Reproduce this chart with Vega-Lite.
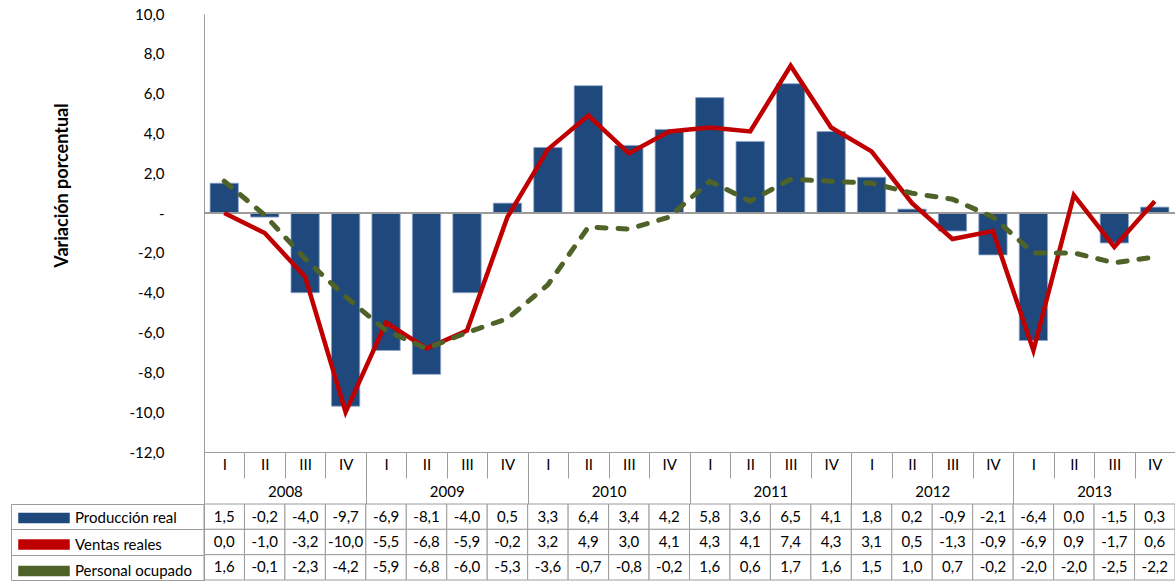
{
  "$schema": "https://vega.github.io/schema/vega-lite/v6.json",
  "autosize": {"type": "pad"},
  "padding": {"left": 10, "top": 7, "right": 0, "bottom": 0},
  "background": "white",
  "config": {
    "locale": {"number": {"decimal": ",", "thousands": ".", "grouping": [3], "currency": ["", ""], "minus": "-"}},
    "font": "Lato",
    "view": {"stroke": null},
    "axis": {"labelFont": "Lato", "titleFont": "Lato", "domainColor": "#9C9C9C", "tickColor": "#9C9C9C", "labelColor": "#000000", "titleColor": "#000000", "grid": false},
    "axisY": {"labelOverlap": false}
  },
  "datasets": {
    "d": [
      {"trimestre": "2008-I", "Producción real": 1.5, "Ventas reales": 0.0, "Personal ocupado": 1.6},
      {"trimestre": "2008-II", "Producción real": -0.2, "Ventas reales": -1.0, "Personal ocupado": -0.1},
      {"trimestre": "2008-III", "Producción real": -4.0, "Ventas reales": -3.2, "Personal ocupado": -2.3},
      {"trimestre": "2008-IV", "Producción real": -9.7, "Ventas reales": -10.0, "Personal ocupado": -4.2},
      {"trimestre": "2009-I", "Producción real": -6.9, "Ventas reales": -5.5, "Personal ocupado": -5.9},
      {"trimestre": "2009-II", "Producción real": -8.1, "Ventas reales": -6.8, "Personal ocupado": -6.8},
      {"trimestre": "2009-III", "Producción real": -4.0, "Ventas reales": -5.9, "Personal ocupado": -6.0},
      {"trimestre": "2009-IV", "Producción real": 0.5, "Ventas reales": -0.2, "Personal ocupado": -5.3},
      {"trimestre": "2010-I", "Producción real": 3.3, "Ventas reales": 3.2, "Personal ocupado": -3.6},
      {"trimestre": "2010-II", "Producción real": 6.4, "Ventas reales": 4.9, "Personal ocupado": -0.7},
      {"trimestre": "2010-III", "Producción real": 3.4, "Ventas reales": 3.0, "Personal ocupado": -0.8},
      {"trimestre": "2010-IV", "Producción real": 4.2, "Ventas reales": 4.1, "Personal ocupado": -0.2},
      {"trimestre": "2011-I", "Producción real": 5.8, "Ventas reales": 4.3, "Personal ocupado": 1.6},
      {"trimestre": "2011-II", "Producción real": 3.6, "Ventas reales": 4.1, "Personal ocupado": 0.6},
      {"trimestre": "2011-III", "Producción real": 6.5, "Ventas reales": 7.4, "Personal ocupado": 1.7},
      {"trimestre": "2011-IV", "Producción real": 4.1, "Ventas reales": 4.3, "Personal ocupado": 1.6},
      {"trimestre": "2012-I", "Producción real": 1.8, "Ventas reales": 3.1, "Personal ocupado": 1.5},
      {"trimestre": "2012-II", "Producción real": 0.2, "Ventas reales": 0.5, "Personal ocupado": 1.0},
      {"trimestre": "2012-III", "Producción real": -0.9, "Ventas reales": -1.3, "Personal ocupado": 0.7},
      {"trimestre": "2012-IV", "Producción real": -2.1, "Ventas reales": -0.9, "Personal ocupado": -0.2},
      {"trimestre": "2013-I", "Producción real": -6.4, "Ventas reales": -6.9, "Personal ocupado": -2.0},
      {"trimestre": "2013-II", "Producción real": 0.0, "Ventas reales": 0.9, "Personal ocupado": -2.0},
      {"trimestre": "2013-III", "Producción real": -1.5, "Ventas reales": -1.7, "Personal ocupado": -2.5},
      {"trimestre": "2013-IV", "Producción real": 0.3, "Ventas reales": 0.6, "Personal ocupado": -2.2}
    ]
  },
  "data": {"name": "d"},
  "transform": [{"fold": ["Producción real", "Ventas reales", "Personal ocupado"], "as": ["serie", "valor"]}],
  "spacing": 52,
  "bounds": "flush",
  "vconcat": [
    {
      "width": 971,
      "height": 438,
      "resolve": {"axis": {"x": "independent"}},
      "layer": [
        {
          "transform": [{"filter": "datum.serie === 'Producción real'"}],
          "mark": {"type": "bar", "width": {"band": 0.7}, "stroke": "#8FA6CC", "strokeWidth": 0.8},
          "encoding": {
            "x": {
              "field": "trimestre", "type": "ordinal",
              "scale": {"paddingInner": 0, "paddingOuter": 0},
              "axis": {
                "orient": "bottom", "title": null, "domain": true, "ticks": true,
                "tickBand": "extent", "tickSize": 26, "labelAngle": 0,
                "labelExpr": "split(datum.value, '-')[1]",
                "labelPadding": -21, "labelFontSize": 15, "labelOverlap": false
              }
            },
            "y": {
              "field": "valor", "type": "quantitative",
              "scale": {"domain": [-12, 10], "nice": false, "zero": false},
              "axis": {
                "title": "Variación porcentual", "titleFontSize": 18, "titleFontWeight": "bold",
                "titleX": -133, "titleY": 171, "titleAngle": -90,
                "values": [-12, -10, -8, -6, -4, -2, 0, 2, 4, 6, 8, 10],
                "tickCount": 12,
                "format": ".1f", "labelOverlap": false,
                "labelExpr": "datum.value === 0 ? '-' : datum.label",
                "labelFontSize": 15, "ticks": false, "tickSize": 0, "labelPadding": 40
              }
            },
            "color": {
              "field": "serie", "type": "nominal",
              "scale": {"domain": ["Producción real", "Ventas reales", "Personal ocupado"], "range": ["#1F497D", "#C00000", "#4F6228"]},
              "legend": {
                "orient": "none", "legendX": -171, "legendY": 493, "title": null,
                "direction": "vertical", "padding": 0,
                "labelFont": "Lato", "labelFontSize": 15, "labelColor": "#000000", "labelOffset": 20,
                "rowPadding": 7.5, "symbolType": "M-2.5,-0.45H2.5V0.45H-2.5Z", "symbolSize": 400,
                "symbolOffset": 0,
                "encode": {
                  "symbols": {
                    "update": {
                      "shape": {"signal": "datum.value === 'Producción real' ? 'M-2.5,-0.45H2.5V0.45H-2.5Z' : 'M-2.4,0H2.4'"},
                      "fill": {"signal": "datum.value === 'Producción real' ? '#1F497D' : 'transparent'"},
                      "stroke": {"signal": "datum.value === 'Ventas reales' ? '#C00000' : (datum.value === 'Personal ocupado' ? '#4F6228' : 'transparent')"},
                      "strokeWidth": {"value": 5},
                      "strokeCap": {"value": "round"},
                      "strokeDash": {"signal": "datum.value === 'Personal ocupado' ? [9, 12] : [1, 0]"},
                      "opacity": {"value": 1}
                    }
                  }
                }
              }
            }
          }
        },
        {
          "mark": {"type": "rule", "color": "#9C9C9C", "strokeWidth": 1},
          "encoding": {"y": {"datum": 0, "type": "quantitative"}}
        },
        {
          "transform": [{"filter": "datum.serie === 'Ventas reales'"}],
          "mark": {"type": "line", "strokeWidth": 4.5},
          "encoding": {
            "x": {
              "field": "trimestre", "type": "ordinal",
              "axis": {
                "orient": "bottom", "title": null, "domain": false, "ticks": true,
                "tickBand": "extent", "tickSize": 52, "labelAngle": 0,
                "tickOpacity": {"condition": {"test": "!datum.value || split(datum.value, '-')[1] === 'IV'", "value": 1}, "value": 0},
                "labelExpr": "split(datum.value, '-')[1] === 'II' ? split(datum.value, '-')[0] : ''",
                "labelOffset": 20.2, "labelPadding": -20, "labelFontSize": 15, "labelOverlap": false
              }
            },
            "y": {"field": "valor", "type": "quantitative"},
            "color": {"field": "serie", "type": "nominal"}
          }
        },
        {
          "transform": [{"filter": "datum.serie === 'Personal ocupado'"}],
          "mark": {"type": "line", "strokeWidth": 5, "strokeDash": [9, 12], "strokeCap": "round"},
          "encoding": {
            "x": {"field": "trimestre", "type": "ordinal", "axis": null},
            "y": {"field": "valor", "type": "quantitative"},
            "color": {"field": "serie", "type": "nominal"}
          }
        }
      ]
    },
    {
      "width": 971,
      "height": 76,
      "resolve": {"axis": {"y": "independent"}},
      "layer": [
        {
          "mark": {"type": "rect", "fill": "white", "stroke": "#9C9C9C", "strokeWidth": 1},
          "encoding": {
            "x": {"field": "trimestre", "type": "ordinal", "axis": null, "scale": {"paddingInner": 0, "paddingOuter": 0}},
            "y": {
              "field": "serie", "type": "nominal",
              "sort": ["Producción real", "Ventas reales", "Personal ocupado"],
              "scale": {"paddingInner": 0, "paddingOuter": 0},
              "axis": {"orient": "left", "title": null, "labels": false, "domain": true, "ticks": true, "tickBand": "extent", "tickSize": 193}
            }
          }
        },
        {
          "mark": {"type": "text", "fontSize": 15, "font": "Lato", "color": "#000000"},
          "encoding": {
            "x": {"field": "trimestre", "type": "ordinal", "axis": null},
            "y": {
              "field": "serie", "type": "nominal",
              "sort": ["Producción real", "Ventas reales", "Personal ocupado"],
              "axis": {"orient": "left", "offset": 193, "title": null, "labels": false, "ticks": false, "domain": true}
            },
            "text": {"field": "valor", "type": "quantitative", "format": ".1f"}
          }
        }
      ]
    }
  ]
}
